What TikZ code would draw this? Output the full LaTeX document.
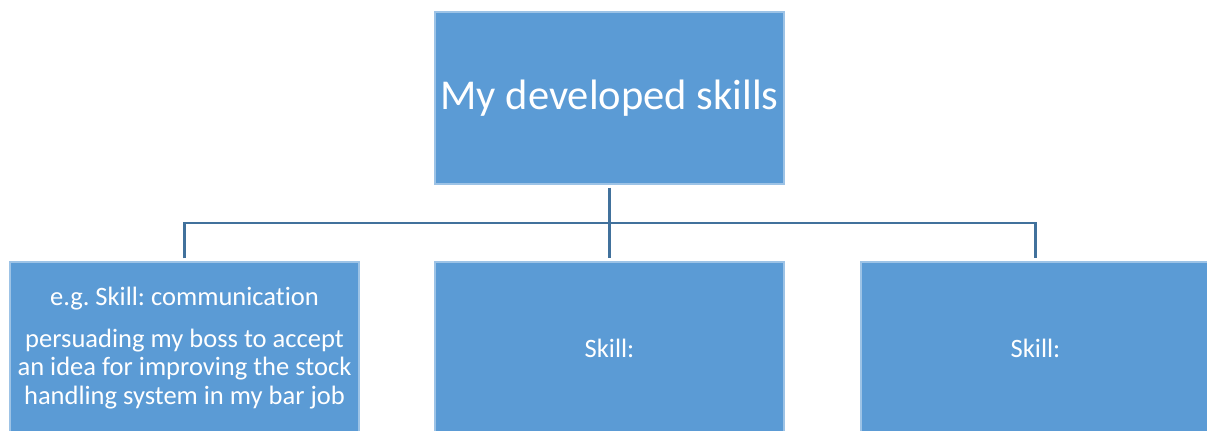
\documentclass[tikz,border=0pt]{standalone}
\usepackage{fontspec}
\setmainfont{Carlito}[Ligatures={NoCommon}]
\usetikzlibrary{positioning}
\frenchspacing

\definecolor{boxblue}{HTML}{5B9BD5}
\definecolor{lineblue}{HTML}{41719C}

\begin{document}
\begin{tikzpicture}[
        chief/.style = {shape = rectangle, fill = boxblue, draw = boxblue!60!white, line width = 0.3pt, text = white, minimum width = 3.49cm, minimum height = 1.72cm, inner sep = 0.05cm, font = \fontsize{12.1pt}{14pt}\selectfont},
        skill/.style = {shape = rectangle, fill = boxblue, draw = boxblue!60!white, line width = 0.3pt, text = white, minimum width = 3.49cm, minimum height = 1.72cm, inner sep = 0.05cm, align = center, font = \fontsize{7.55pt}{8.1pt}\selectfont},
        link/.style = {draw = lineblue, line width = 0.75pt},
    ]
    \clip (0,0) rectangle (12.07,-4.30);
    \useasboundingbox (0,0) rectangle (12.07,-4.30);

    \node[chief] (top) at (6.095, -0.98) {My developed skills};
    \node[skill] (skillA) at (1.845, -3.48) {e.g. Skill: communication\\[3.85pt]persuading my boss to accept\\an idea for improving the stock\\handling system in my bar job};
    \node[skill] (skillB) at (6.095, -3.48) {Skill:};
    \node[skill] (skillC) at (10.355, -3.48) {Skill:};

    \coordinate (bus) at (6.095, -2.23);

    \path[link] (top.south) ++(0,-0.03) -- (bus);
    \path[link] (skillA.north) ++(0,0.03) |- (bus) -| ([yshift=0.03cm]skillC.north);
    \path[link] (bus) -- ([yshift=0.03cm]skillB.north);
\end{tikzpicture}
\end{document}
